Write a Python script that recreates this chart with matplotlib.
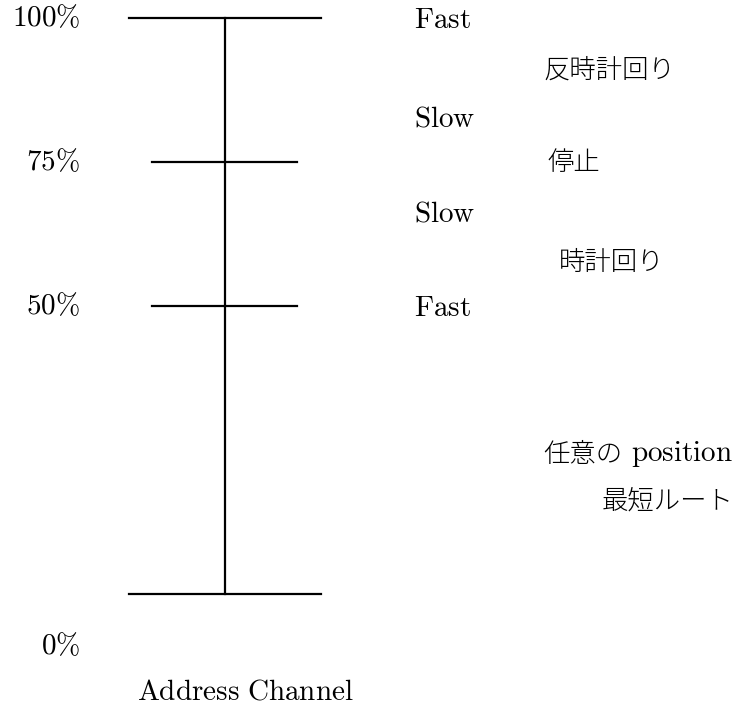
import matplotlib
matplotlib.use("Agg")
import matplotlib.pyplot as plt

plt.rcParams['mathtext.fontset'] = 'cm'

# niveles de la barra (en %)
levels = [100, 75, 50, 0]
level_labels = ["100\\%", "75\\%", "50\\%", "0\\%"]
# velocidades a la derecha
speed_labels = ["Fast", "Slow", "Slow", "Fast"]
speed_pos = [99.6, 82.6, 66, 49.6]
# textos en japonés
jp_labels = ["反時計回り", "停止", "時計回り"]
jp_pos = [91, 75, 57.6]
extra_jp = "任意の"
extra_en = "position"
extra_pos = 24.3
route_label = "最短ルート"
route_pos = 16.3
axis_label = "Address Channel"

fig = plt.figure(figsize=(7.36, 7.09), dpi=100)
ax = fig.add_axes([0, 0, 1, 1])
ax.set_xlim(0, 736)
ax.set_ylim(-115 / 5.76, 594 / 5.76)
ax.axis('off')

# barra vertical
ax.plot([225, 225], [min(levels), max(levels)], color='black', lw=1.6)

fs = 21
for lv, lab in zip(levels, level_labels):
    if lv in (0, 100):
        x0, x1 = 129, 321
    else:
        x0, x1 = 152, 297
    ax.plot([x0, x1], [lv, lv], color='black', lw=1.6)
    ytxt = lv if lv != 0 else lv - 9
    ax.text(80, ytxt, "$\\mathrm{" + lab + "}$", ha='right', va='center', fontsize=fs)

for lab, p in zip(speed_labels, speed_pos):
    ax.text(414, p, "$\\mathrm{" + lab + "}$", ha='left', va='center', fontsize=fs)

jp_kw = dict(fontsize=19, family='Noto Sans CJK JP', fontweight='light')
jp_x = [609, 574, 612]
for lab, p, x in zip(jp_labels, jp_pos, jp_x):
    ax.text(x, p, lab, ha='center', va='center', **jp_kw)

ax.text(733, extra_pos, "$\\mathrm{" + extra_en + "}$", ha='right', va='center', fontsize=fs)
ax.text(622, extra_pos, extra_jp, ha='right', va='center', **jp_kw)
ax.text(733, route_pos, route_label, ha='right', va='center', **jp_kw)

ax.text(245, -17, "$\\mathrm{Address\\ Channel}$", ha='center', va='center', fontsize=fs)

fig.savefig("out.png", dpi=100)
